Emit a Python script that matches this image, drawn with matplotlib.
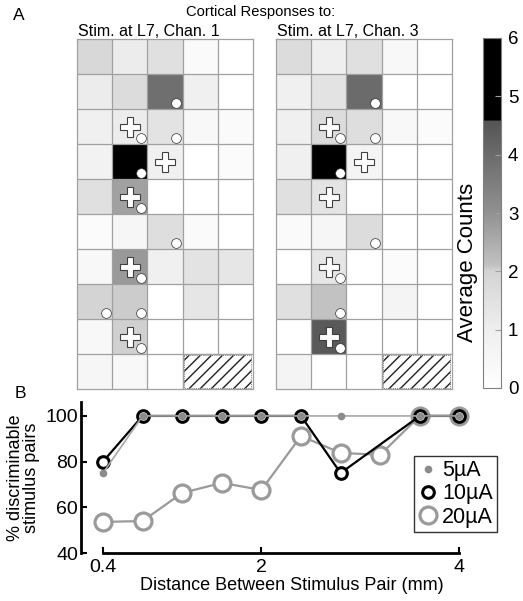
import numpy as np
import matplotlib
matplotlib.use("Agg")
import matplotlib.pyplot as plt
from matplotlib.colors import LinearSegmentedColormap
from matplotlib.patches import Rectangle
from matplotlib.lines import Line2D

plt.rcParams['font.family'] = ['Liberation Sans', 'DejaVu Sans']
plt.rcParams['hatch.linewidth'] = 1.0

# ---------------- data ----------------
chan1 = np.array([
    [1.83, 1.10, 1.55, 0.30, 0.00],
    [1.10, 1.70, 3.90, 0.90, 0.00],
    [0.90, 1.10, 1.45, 0.40, 0.30],
    [0.80, 5.60, 0.90, 0.00, 0.25],
    [1.55, 2.70, 0.00, 0.00, 0.00],
    [0.25, 0.55, 1.60, 0.30, 0.00],
    [0.40, 2.85, 0.90, 1.45, 1.33],
    [2.00, 2.04, 0.00, 1.33, 0.00],
    [0.40, 2.02, 0.00, 0.00, 0.00],
    [0.55, 0.40, 0.00, np.nan, np.nan],
])
chan3 = np.array([
    [1.70, 0.95, 1.55, 0.40, 0.00],
    [0.90, 1.45, 4.00, 0.00, 0.00],
    [0.90, 1.70, 1.60, 0.40, 0.25],
    [0.90, 5.60, 0.65, 0.00, 0.00],
    [1.55, 1.40, 0.00, 0.00, 0.00],
    [0.30, 0.55, 1.70, 0.00, 0.00],
    [0.00, 1.33, 0.00, 0.25, 0.00],
    [1.55, 2.10, 0.00, 0.65, 0.00],
    [0.00, 4.45, 0.00, 0.00, 0.00],
    [0.65, 0.00, 0.00, np.nan, np.nan],
])
# (row, col) of stimulation sites (plus) and recording sites (circles)
plus_cells = [(2, 1), (3, 2), (4, 1), (6, 1), (8, 1)]
circ_cells1 = [(1, 2), (2, 1), (2, 2), (3, 1), (4, 1), (5, 2), (6, 1), (7, 0), (7, 1), (8, 1)]
circ_cells3 = [(1, 2), (2, 1), (2, 2), (3, 1), (5, 2), (6, 1), (7, 1), (8, 1)]
panel_titles = ["Stim. at L7, Chan. 1", "Stim. at L7, Chan. 3"]
cbar_ticks = [0, 1, 2, 3, 4, 5, 6]

dist5 = [0.4, 0.8, 1.2, 1.6, 2.0, 2.4, 2.8, 3.6, 4.0]
pct5 = [75, 100, 100, 100, 100, 100, 100, 100, 100]
dist10 = [0.4, 0.8, 1.2, 1.6, 2.0, 2.4, 2.8, 3.6, 4.0]
pct10 = [80, 100, 100, 100, 100, 100, 75, 100, 100]
dist20 = [0.4, 0.8, 1.2, 1.6, 2.0, 2.4, 2.8, 3.2, 3.6, 4.0]
pct20 = [53.6, 54, 66.3, 70.7, 67.6, 91.2, 83.8, 83, 100, 100]
series_labels = ["5\u00b5A", "10\u00b5A", "20\u00b5A"]
xticks = [0.4, 2, 4]
yticks = [40, 60, 80, 100]

# ---------------- colormap ----------------
nodes = [(0 / 6, 1.0), (1 / 6, 0.935), (2 / 6, 0.83), (2.1 / 6, 0.76), (3 / 6, 0.57),
         (4 / 6, 0.42), (4.58 / 6, 0.33), (4.6 / 6, 0.0), (1.0, 0.0)]
cmap = LinearSegmentedColormap.from_list("g", [(p, (g, g, g)) for p, g in nodes], N=512)
cmap.set_bad('white')

W, H = 523, 601
fig = plt.figure(figsize=(W / 100, H / 100), dpi=100)

def fx(px):
    return px / W

def fy(py):
    return 1 - py / H

grid_c = '#a0a0a0'
axes_h = [fig.add_axes([fx(77), fy(389), fx(176), 350 / H]),
          fig.add_axes([fx(276), fy(389), fx(176), 350 / H])]
for ax, data, circs, title in zip(axes_h, [chan1, chan3], [circ_cells1, circ_cells3], panel_titles):
    mesh = ax.pcolormesh(np.arange(6), np.arange(11), np.ma.masked_invalid(data),
                         cmap=cmap, vmin=0, vmax=6)
    ax.set_xlim(0, 5)
    ax.set_ylim(10, 0)
    for i in range(1, 10):
        ax.axhline(i, color=grid_c, lw=0.9, zorder=2)
    for j in range(1, 5):
        ax.axvline(j, color=grid_c, lw=0.9, zorder=2)
    ax.add_patch(Rectangle((3, 9), 2, 1, facecolor='white', edgecolor=grid_c, lw=0.9, zorder=3))
    ax.add_patch(Rectangle((3.05, 9.04), 1.9, 0.94, fill=False, hatch='///', edgecolor='#202020',
                           lw=0.5, ls=':', zorder=3.5))
    for s in ax.spines.values():
        s.set_color(grid_c)
        s.set_linewidth(0.9)
    ax.set_xticks([])
    ax.set_yticks([])
    pr = [r + 0.5 for r, c in plus_cells]
    pc = [c + 0.5 for r, c in plus_cells]
    ax.plot(pc, pr, 'P', ms=14.5, mfc='white', mec='#404040', mew=0.8, ls='none', zorder=5)
    cr = [r + 0.83 for r, c in circs]
    cc = [c + 0.82 for r, c in circs]
    ax.plot(cc, cr, 'o', ms=7, mfc='white', mec='#303030', mew=0.5, ls='none', zorder=6)
    fig.text(ax.get_position().x0 + fx(1), fy(31), title, ha='left', va='center', fontsize=11.5)

cax = fig.add_axes([fx(483), fy(388), fx(18), 350 / H])
cb = fig.colorbar(mesh, cax=cax, ticks=cbar_ticks)
cb.outline.set_edgecolor('#808080')
cb.outline.set_linewidth(0.8)
cax.tick_params(direction='in', length=4, color='#a0a0a0', labelsize=13.5, pad=5)
fig.text(fx(467), fy(262), "Average Counts", rotation=90, ha='center', va='center', fontsize=16)

fig.text(fx(261), fy(12), "Cortical Responses to:", ha='center', va='center', fontsize=10.6)
fig.text(fx(19), fy(16), "A", ha='center', va='center', fontsize=12.5)
fig.text(fx(20), fy(393), "B", ha='center', va='center', fontsize=12.5)

# ---------------- panel B ----------------
axB = fig.add_axes([fx(81), fy(553), fx(422), 151 / H])
g20 = '#9a9a9a'
axB.plot(dist20, pct20, '-o', color=g20, lw=1.6, ms=12.2, mfc='white', mec=g20, mew=2.3, zorder=3)
axB.plot(dist10, pct10, '-o', color='black', lw=1.6, ms=8.4, mfc='white', mec='black', mew=2.2, zorder=4)
axB.plot(dist5, pct5, '-o', color='#a8a8a8', lw=1.2, ms=5.5, mfc='#8c8c8c', mec='#8c8c8c', mew=0, zorder=5)
axB.set_xlim(0.178, 4.44)
axB.set_ylim(40, 106.1)
axB.spines['top'].set_visible(False)
axB.spines['right'].set_visible(False)
axB.spines['left'].set_linewidth(2)
axB.spines['bottom'].set_linewidth(2)
axB.spines['bottom'].set_bounds(0.4, 4)
axB.set_xticks(xticks)
axB.set_xticklabels(['0.4', '2', '4'])
axB.set_yticks(yticks)
axB.tick_params(direction='in', length=4, width=1.5, labelsize=14)
axB.tick_params(axis='y', pad=2)
axB.tick_params(axis='x', pad=4)
axB.set_xlabel("Distance Between Stimulus Pair (mm)", fontsize=13, labelpad=1)
axB.set_ylabel("% discriminable\nstimulus pairs", fontsize=13, labelpad=4, linespacing=0.95)

handles = [
    Line2D([], [], ls='none', marker='o', ms=5.5, mfc='#8c8c8c', mec='#8c8c8c', mew=0),
    Line2D([], [], ls='none', marker='o', ms=8.4, mfc='white', mec='black', mew=2.2),
    Line2D([], [], ls='none', marker='o', ms=12.2, mfc='white', mec=g20, mew=2.3),
]
leg = fig.legend(handles, series_labels, loc='upper left', bbox_to_anchor=(fx(414), fy(456)),
                 fontsize=15.5, frameon=True, fancybox=False, edgecolor='black', handlelength=0.9,
                 handletextpad=0.2, labelspacing=0.1, borderpad=0.2, borderaxespad=0)
leg.get_frame().set_linewidth(1.0)

fig.savefig("out.png", dpi=100)
